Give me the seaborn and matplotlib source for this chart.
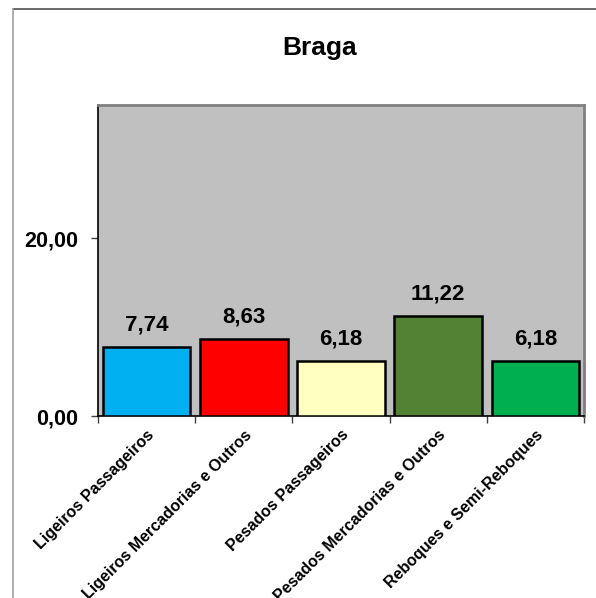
import matplotlib
matplotlib.use("Agg")
import matplotlib.pyplot as plt
import matplotlib.transforms as mtransforms
import seaborn as sns
import pandas as pd
import numpy as np
from matplotlib.lines import Line2D
from matplotlib.ticker import FixedLocator

categories = ["Ligeiros Passageiros", "Ligeiros Mercadorias e Outros",
              "Pesados Passageiros", "Pesados Mercadorias e Outros",
              "Reboques e Semi-Reboques"]
values = [7.74, 8.63, 6.18, 11.22, 6.18]
bar_colors = ["#00B0F0", "#FF0000", "#FFFFC0", "#548235", "#00B050"]
title = "Braga"

sns.set_style("white")
plt.rcParams["font.family"] = ["Liberation Sans", "DejaVu Sans"]
plt.rcParams["text.color"] = "black"
plt.rcParams["xtick.color"] = "black"
plt.rcParams["ytick.color"] = "black"

df = pd.DataFrame({"categoria": categories, "valor": values})

fig = plt.figure(figsize=(5.96, 5.98), dpi=100)
ax = fig.add_axes([98 / 596, 1 - 416 / 598, (584 - 98) / 596, (416 - 105) / 598])
ax.set_facecolor("#C0C0C0")

sns.barplot(data=df, x="categoria", y="valor", hue="categoria",
            palette=bar_colors, saturation=1, width=0.9, edgecolor="black",
            linewidth=1.8, legend=False, ax=ax, zorder=3)

ax.set_ylim(0, 35)
ax.set_xlim(-0.5, len(categories) - 0.5)
ax.set_yticks([0, 20])
ax.set_yticklabels(["0,00", "20,00"], fontsize=15.5, fontweight="bold")
ax.set_xlabel("")
ax.set_ylabel("")

# category labels on major ticks, tick marks at boundaries
ax.set_xticks(range(len(categories)))
ax.set_xticklabels(categories, rotation=45, ha="right", va="top",
                   rotation_mode="anchor", fontsize=11.5, fontweight="bold")
shift = mtransforms.ScaledTranslation(-3 / 100, 0, fig.dpi_scale_trans)
for lbl in ax.get_xticklabels():
    lbl.set_transform(lbl.get_transform() + shift)
ax.xaxis.set_minor_locator(FixedLocator(np.arange(-0.5, len(categories), 1)))
ax.tick_params(axis="x", which="major", length=0, pad=8)
ax.tick_params(axis="x", which="minor", length=5, width=1, color="#404040",
               direction="out", bottom=True)
ax.tick_params(axis="y", length=5, width=1, color="#404040", direction="out",
               left=True, pad=9)

for spine in ["top", "right"]:
    ax.spines[spine].set_color("#808080")
    ax.spines[spine].set_linewidth(2)
ax.spines["left"].set_color("black")
ax.spines["left"].set_linewidth(1.2)
ax.spines["bottom"].set_color("black")
ax.spines["bottom"].set_linewidth(1.2)

for i, v in enumerate(values):
    ax.annotate(f"{v:.2f}".replace(".", ","), (i, v), xytext=(0, 16),
                textcoords="offset points", ha="center", va="center",
                fontsize=16, fontweight="bold")

fig.text(320 / 596, 1 - 48 / 598, title, ha="center", va="center",
         fontsize=19, fontweight="bold")

# chart area border (top and left)
fig.add_artist(Line2D([13 / 596, 1], [1 - 9 / 598, 1 - 9 / 598],
                      color="#505050", lw=1.2, transform=fig.transFigure))
fig.add_artist(Line2D([13 / 596, 13 / 596], [0, 1 - 9 / 598],
                      color="#A0A0A0", lw=1.2, transform=fig.transFigure))

fig.savefig("out.png", dpi=100, facecolor="white")
